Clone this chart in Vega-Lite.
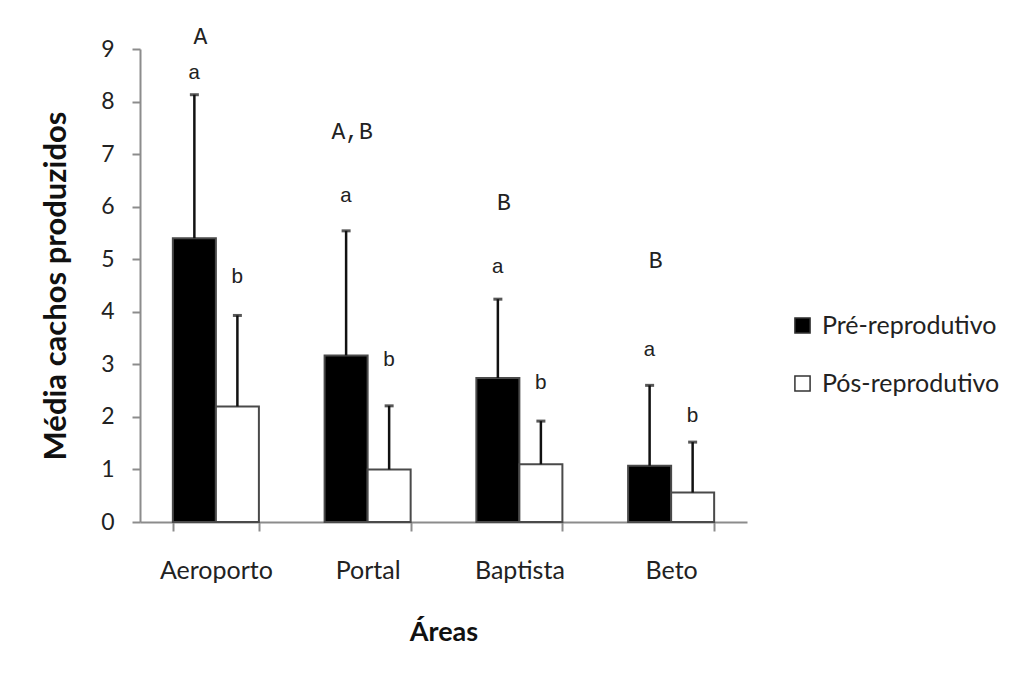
{
  "$schema": "https://vega.github.io/schema/vega-lite/v6.json",
  "width": 607,
  "height": 473,
  "autosize": "none",
  "padding": {"left": 140, "top": 49, "right": 269, "bottom": 160},
  "background": "white",
  "config": {
    "view": {"stroke": null},
    "axisY": {
      "grid": false, "labelOverlap": false,
      "domainColor": "#8c8c8c", "domainWidth": 2, "tickColor": "#8c8c8c", "tickWidth": 2, "tickSize": 8,
      "labelFont": "Lato", "labelFontSize": 23, "labelColor": "#222", "labelPadding": 18,
      "titleFont": "Lato", "titleFontSize": 31, "titleFontWeight": "bold", "titleColor": "#111", "titlePadding": 28
    }
  },
  "datasets": {
    "bars": [
      {"area": "Aeroporto", "periodo": "Pré-reprodutivo", "media": 5.40, "sup": 8.13, "letra": "a", "ly": 8.55},
      {"area": "Aeroporto", "periodo": "Pós-reprodutivo", "media": 2.20, "sup": 3.93, "letra": "b", "ly": 4.67},
      {"area": "Portal", "periodo": "Pré-reprodutivo", "media": 3.17, "sup": 5.54, "letra": "a", "ly": 6.21},
      {"area": "Portal", "periodo": "Pós-reprodutivo", "media": 1.00, "sup": 2.21, "letra": "b", "ly": 3.09},
      {"area": "Baptista", "periodo": "Pré-reprodutivo", "media": 2.74, "sup": 4.24, "letra": "a", "ly": 4.85},
      {"area": "Baptista", "periodo": "Pós-reprodutivo", "media": 1.10, "sup": 1.92, "letra": "b", "ly": 2.64},
      {"area": "Beto", "periodo": "Pré-reprodutivo", "media": 1.07, "sup": 2.60, "letra": "a", "ly": 3.28},
      {"area": "Beto", "periodo": "Pós-reprodutivo", "media": 0.56, "sup": 1.52, "letra": "b", "ly": 2.01}
    ],
    "grupos": [
      {"area": "Aeroporto", "periodo": "Pré-reprodutivo", "letra": "A", "ly": 9.22},
      {"area": "Portal", "periodo": "Pré-reprodutivo", "letra": "A,B", "ly": 7.43},
      {"area": "Baptista", "periodo": "Pré-reprodutivo", "letra": "B", "ly": 6.07},
      {"area": "Beto", "periodo": "Pré-reprodutivo", "letra": "B", "ly": 4.96}
    ]
  },
  "encoding": {
    "x": {
      "field": "area", "type": "nominal",
      "sort": ["Aeroporto", "Portal", "Baptista", "Beto"],
      "scale": {"paddingInner": 0.433, "paddingOuter": 0.2165},
      "axis": {
        "title": "Áreas", "labelAngle": 0, "tickBand": "extent",
        "domainColor": "#8c8c8c", "domainWidth": 2, "tickColor": "#8c8c8c", "tickWidth": 2, "tickSize": 9,
        "labelFont": "Lato", "labelFontSize": 25, "labelColor": "#222", "labelPadding": 27,
        "titleFont": "Lato", "titleFontSize": 27, "titleFontWeight": "bold", "titleColor": "#111", "titlePadding": 36
      }
    },
    "xOffset": {
      "field": "periodo", "type": "nominal",
      "sort": ["Pré-reprodutivo", "Pós-reprodutivo"],
      "scale": {"paddingInner": 0, "paddingOuter": 0}
    }
  },
  "layer": [
    {
      "data": {"name": "bars"},
      "mark": {"type": "bar", "stroke": "#4a4a4a", "strokeWidth": 2},
      "encoding": {
        "y": {
          "field": "media", "type": "quantitative",
          "scale": {"domain": [0, 9], "nice": false},
          "axis": {"title": "Média cachos produzidos", "values": [0,1,2,3,4,5,6,7,8,9]}
        },
        "fill": {
          "field": "periodo", "type": "nominal",
          "sort": ["Pré-reprodutivo", "Pós-reprodutivo"],
          "scale": {"domain": ["Pré-reprodutivo", "Pós-reprodutivo"], "range": ["#000000", "#ffffff"]},
          "legend": {
            "title": null, "orient": "none", "legendX": 650, "legendY": 264,
            "symbolType": "square", "symbolSize": 230, "symbolStrokeColor": "#333", "symbolStrokeWidth": 1.5,
            "labelFont": "Lato", "labelFontSize": 25, "labelColor": "#222", "labelOffset": 7, "rowPadding": 32, "labelLimit": 400
          }
        }
      }
    },
    {
      "data": {"name": "bars"},
      "mark": {"type": "rule", "color": "#111", "strokeWidth": 2.5},
      "encoding": {"y": {"field": "media", "type": "quantitative", "axis": {"title": "Média cachos produzidos", "values": [0,1,2,3,4,5,6,7,8,9]}}, "y2": {"field": "sup"}}
    },
    {
      "data": {"name": "bars"},
      "mark": {"type": "tick", "color": "#111", "thickness": 3, "size": 9},
      "encoding": {"y": {"field": "sup", "type": "quantitative", "axis": {"title": "Média cachos produzidos", "values": [0,1,2,3,4,5,6,7,8,9]}}}
    },
    {
      "data": {"name": "bars"},
      "mark": {"type": "text", "font": "Courier New, Liberation Mono, monospace", "fontSize": 21, "color": "#222", "baseline": "middle"},
      "encoding": {"y": {"field": "ly", "type": "quantitative", "axis": {"title": "Média cachos produzidos", "values": [0,1,2,3,4,5,6,7,8,9]}}, "text": {"field": "letra"}}
    },
    {
      "data": {"name": "grupos"},
      "mark": {"type": "text", "font": "Courier New, Liberation Mono, monospace", "fontSize": 23, "color": "#222", "baseline": "middle", "dx": 6},
      "encoding": {"y": {"field": "ly", "type": "quantitative", "axis": {"title": "Média cachos produzidos", "values": [0,1,2,3,4,5,6,7,8,9]}}, "text": {"field": "letra"}}
    }
  ]
}
